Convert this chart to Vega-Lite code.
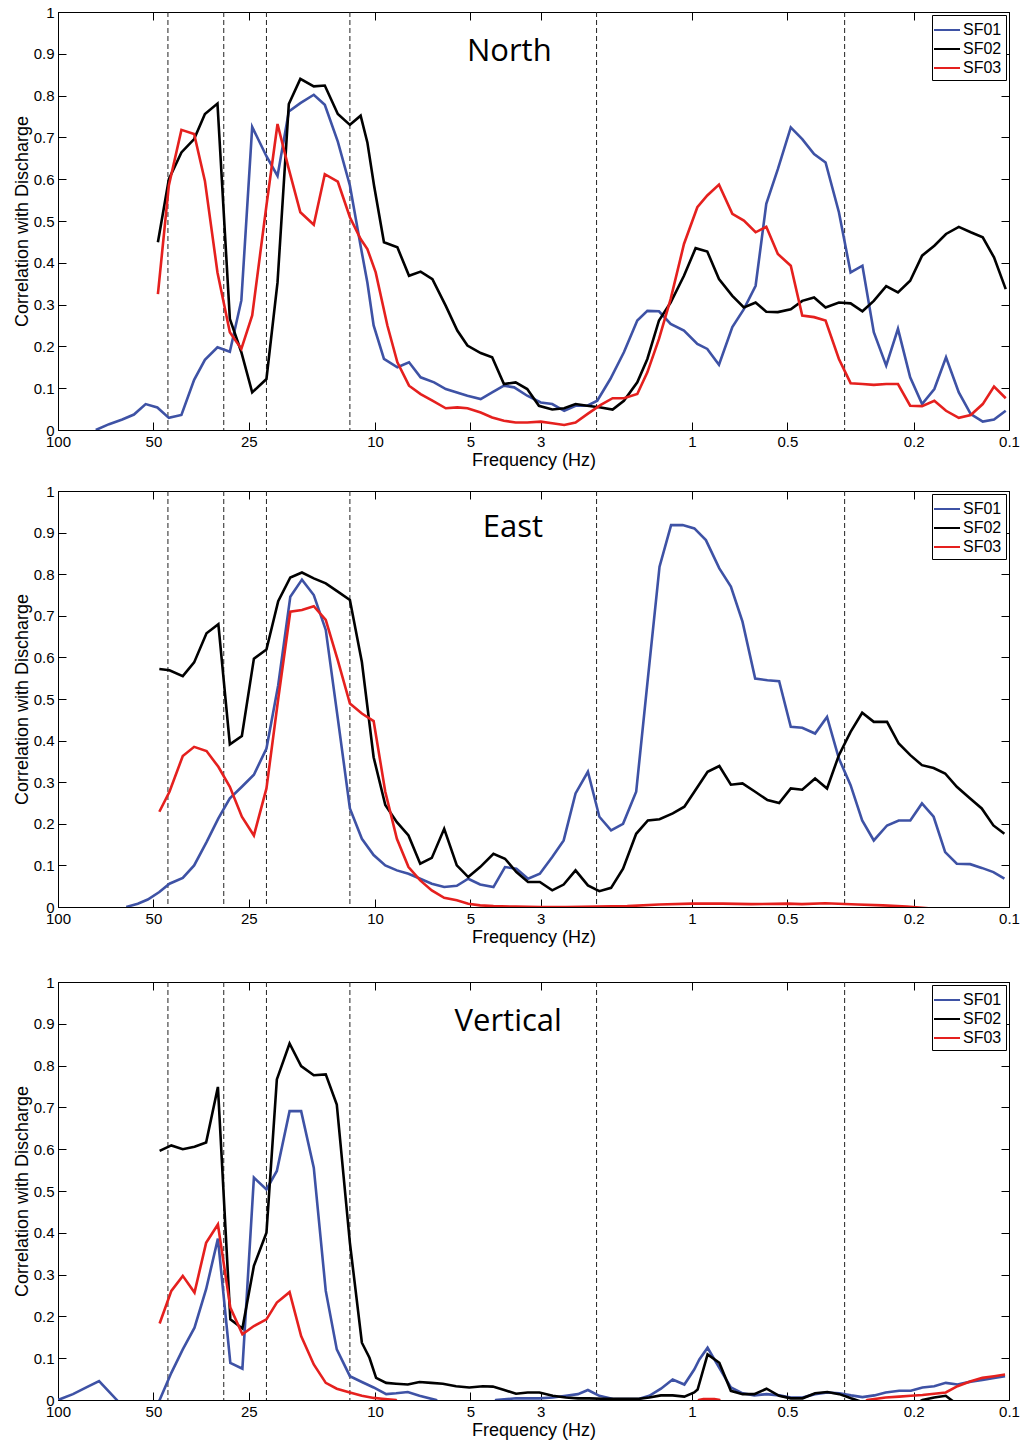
{
"$schema": "https://vega.github.io/schema/vega-lite/v6.json",
"background": "white",
"padding": {"left": 12, "top": 4, "right": 8, "bottom": 2},
"datasets": {
"bands": [{"f":45},{"f":30},{"f":22},{"f":12},{"f":2},{"f":0.33}],
"north": [
{"s":"SF01","f":76,"c":0},{"s":"SF01","f":69,"c":0.014},{"s":"SF01","f":62.7,"c":0.025},{"s":"SF01","f":57.6,"c":0.037},{"s":"SF01","f":52.9,"c":0.062},{"s":"SF01","f":48.6,"c":0.054},{"s":"SF01","f":44.7,"c":0.029},{"s":"SF01","f":40.8,"c":0.036},{"s":"SF01","f":37.2,"c":0.12},{"s":"SF01","f":34.4,"c":0.168},{"s":"SF01","f":31.4,"c":0.198},{"s":"SF01","f":28.7,"c":0.187},{"s":"SF01","f":26.4,"c":0.31},{"s":"SF01","f":24.4,"c":0.725},{"s":"SF01","f":22.0,"c":0.655},{"s":"SF01","f":20.3,"c":0.608},{"s":"SF01","f":18.7,"c":0.762},{"s":"SF01","f":17.2,"c":0.782},{"s":"SF01","f":15.6,"c":0.802},{"s":"SF01","f":14.4,"c":0.778},{"s":"SF01","f":13.1,"c":0.69},{"s":"SF01","f":12.0,"c":0.585},{"s":"SF01","f":11.1,"c":0.44},{"s":"SF01","f":10.57,"c":0.353},{"s":"SF01","f":10.1,"c":0.25},{"s":"SF01","f":9.37,"c":0.17},{"s":"SF01","f":8.5,"c":0.15},{"s":"SF01","f":7.81,"c":0.162},{"s":"SF01","f":7.18,"c":0.126},{"s":"SF01","f":6.51,"c":0.114},{"s":"SF01","f":5.98,"c":0.098},{"s":"SF01","f":5.11,"c":0.082},{"s":"SF01","f":4.64,"c":0.074},{"s":"SF01","f":4.27,"c":0.09},{"s":"SF01","f":3.92,"c":0.106},{"s":"SF01","f":3.64,"c":0.102},{"s":"SF01","f":3.31,"c":0.082},{"s":"SF01","f":3.0,"c":0.066},{"s":"SF01","f":2.76,"c":0.062},{"s":"SF01","f":2.53,"c":0.046},{"s":"SF01","f":2.33,"c":0.058},{"s":"SF01","f":2.14,"c":0.058},{"s":"SF01","f":1.99,"c":0.07},{"s":"SF01","f":1.81,"c":0.122},{"s":"SF01","f":1.64,"c":0.186},{"s":"SF01","f":1.488,"c":0.262},{"s":"SF01","f":1.383,"c":0.285},{"s":"SF01","f":1.271,"c":0.284},{"s":"SF01","f":1.168,"c":0.254},{"s":"SF01","f":1.06,"c":0.238},{"s":"SF01","f":0.962,"c":0.206},{"s":"SF01","f":0.895,"c":0.194},{"s":"SF01","f":0.822,"c":0.156},{"s":"SF01","f":0.746,"c":0.246},{"s":"SF01","f":0.686,"c":0.289},{"s":"SF01","f":0.63,"c":0.345},{"s":"SF01","f":0.583,"c":0.541},{"s":"SF01","f":0.536,"c":0.624},{"s":"SF01","f":0.488,"c":0.724},{"s":"SF01","f":0.449,"c":0.696},{"s":"SF01","f":0.412,"c":0.66},{"s":"SF01","f":0.379,"c":0.64},{"s":"SF01","f":0.344,"c":0.521},{"s":"SF01","f":0.316,"c":0.377},{"s":"SF01","f":0.29,"c":0.393},{"s":"SF01","f":0.267,"c":0.234},{"s":"SF01","f":0.244,"c":0.154},{"s":"SF01","f":0.224,"c":0.242},{"s":"SF01","f":0.205,"c":0.126},{"s":"SF01","f":0.188,"c":0.062},{"s":"SF01","f":0.172,"c":0.098},{"s":"SF01","f":0.158,"c":0.174},{"s":"SF01","f":0.144,"c":0.09},{"s":"SF01","f":0.132,"c":0.038},{"s":"SF01","f":0.121,"c":0.02},{"s":"SF01","f":0.1115,"c":0.025},{"s":"SF01","f":0.1024,"c":0.046},
{"s":"SF02","f":48.4,"c":0.449},{"s":"SF02","f":44.7,"c":0.6},{"s":"SF02","f":40.8,"c":0.664},{"s":"SF02","f":37.2,"c":0.696},{"s":"SF02","f":34.4,"c":0.756},{"s":"SF02","f":31.4,"c":0.781},{"s":"SF02","f":28.7,"c":0.266},{"s":"SF02","f":26.4,"c":0.186},{"s":"SF02","f":24.4,"c":0.09},{"s":"SF02","f":22.0,"c":0.122},{"s":"SF02","f":20.3,"c":0.353},{"s":"SF02","f":18.7,"c":0.78},{"s":"SF02","f":17.2,"c":0.84},{"s":"SF02","f":15.6,"c":0.822},{"s":"SF02","f":14.4,"c":0.824},{"s":"SF02","f":13.1,"c":0.756},{"s":"SF02","f":12.0,"c":0.73},{"s":"SF02","f":11.1,"c":0.752},{"s":"SF02","f":10.57,"c":0.688},{"s":"SF02","f":10.07,"c":0.585},{"s":"SF02","f":9.37,"c":0.449},{"s":"SF02","f":8.5,"c":0.437},{"s":"SF02","f":7.81,"c":0.369},{"s":"SF02","f":7.18,"c":0.379},{"s":"SF02","f":6.59,"c":0.361},{"s":"SF02","f":5.98,"c":0.297},{"s":"SF02","f":5.5,"c":0.238},{"s":"SF02","f":5.11,"c":0.202},{"s":"SF02","f":4.64,"c":0.184},{"s":"SF02","f":4.27,"c":0.174},{"s":"SF02","f":3.92,"c":0.11},{"s":"SF02","f":3.6,"c":0.114},{"s":"SF02","f":3.31,"c":0.098},{"s":"SF02","f":3.04,"c":0.058},{"s":"SF02","f":2.76,"c":0.049},{"s":"SF02","f":2.53,"c":0.052},{"s":"SF02","f":2.33,"c":0.062},{"s":"SF02","f":2.14,"c":0.058},{"s":"SF02","f":1.94,"c":0.054},{"s":"SF02","f":1.78,"c":0.049},{"s":"SF02","f":1.64,"c":0.07},{"s":"SF02","f":1.488,"c":0.114},{"s":"SF02","f":1.383,"c":0.17},{"s":"SF02","f":1.271,"c":0.262},{"s":"SF02","f":1.168,"c":0.305},{"s":"SF02","f":1.06,"c":0.369},{"s":"SF02","f":0.974,"c":0.435},{"s":"SF02","f":0.895,"c":0.427},{"s":"SF02","f":0.822,"c":0.361},{"s":"SF02","f":0.746,"c":0.321},{"s":"SF02","f":0.686,"c":0.293},{"s":"SF02","f":0.63,"c":0.305},{"s":"SF02","f":0.583,"c":0.283},{"s":"SF02","f":0.536,"c":0.282},{"s":"SF02","f":0.488,"c":0.289},{"s":"SF02","f":0.449,"c":0.309},{"s":"SF02","f":0.412,"c":0.317},{"s":"SF02","f":0.379,"c":0.293},{"s":"SF02","f":0.344,"c":0.305},{"s":"SF02","f":0.316,"c":0.303},{"s":"SF02","f":0.29,"c":0.284},{"s":"SF02","f":0.267,"c":0.309},{"s":"SF02","f":0.244,"c":0.344},{"s":"SF02","f":0.224,"c":0.329},{"s":"SF02","f":0.205,"c":0.357},{"s":"SF02","f":0.188,"c":0.417},{"s":"SF02","f":0.172,"c":0.441},{"s":"SF02","f":0.158,"c":0.469},{"s":"SF02","f":0.144,"c":0.486},{"s":"SF02","f":0.132,"c":0.473},{"s":"SF02","f":0.121,"c":0.461},{"s":"SF02","f":0.1115,"c":0.413},{"s":"SF02","f":0.1024,"c":0.337},
{"s":"SF03","f":48.4,"c":0.325},{"s":"SF03","f":44.7,"c":0.585},{"s":"SF03","f":40.8,"c":0.718},{"s":"SF03","f":37.2,"c":0.708},{"s":"SF03","f":34.4,"c":0.596},{"s":"SF03","f":31.4,"c":0.377},{"s":"SF03","f":28.7,"c":0.234},{"s":"SF03","f":26.4,"c":0.194},{"s":"SF03","f":24.4,"c":0.274},{"s":"SF03","f":22.0,"c":0.537},{"s":"SF03","f":20.3,"c":0.732},{"s":"SF03","f":18.7,"c":0.624},{"s":"SF03","f":17.2,"c":0.521},{"s":"SF03","f":15.6,"c":0.491},{"s":"SF03","f":14.4,"c":0.612},{"s":"SF03","f":13.1,"c":0.594},{"s":"SF03","f":12.0,"c":0.509},{"s":"SF03","f":11.1,"c":0.457},{"s":"SF03","f":10.57,"c":0.433},{"s":"SF03","f":9.95,"c":0.377},{"s":"SF03","f":9.14,"c":0.25},{"s":"SF03","f":8.5,"c":0.162},{"s":"SF03","f":7.81,"c":0.106},{"s":"SF03","f":7.18,"c":0.086},{"s":"SF03","f":6.59,"c":0.07},{"s":"SF03","f":5.98,"c":0.052},{"s":"SF03","f":5.5,"c":0.054},{"s":"SF03","f":5.11,"c":0.052},{"s":"SF03","f":4.64,"c":0.042},{"s":"SF03","f":4.27,"c":0.03},{"s":"SF03","f":3.92,"c":0.022},{"s":"SF03","f":3.6,"c":0.018},{"s":"SF03","f":3.31,"c":0.018},{"s":"SF03","f":3.0,"c":0.02},{"s":"SF03","f":2.76,"c":0.016},{"s":"SF03","f":2.53,"c":0.012},{"s":"SF03","f":2.33,"c":0.018},{"s":"SF03","f":2.14,"c":0.038},{"s":"SF03","f":1.94,"c":0.06},{"s":"SF03","f":1.78,"c":0.076},{"s":"SF03","f":1.64,"c":0.076},{"s":"SF03","f":1.488,"c":0.086},{"s":"SF03","f":1.383,"c":0.138},{"s":"SF03","f":1.271,"c":0.218},{"s":"SF03","f":1.168,"c":0.313},{"s":"SF03","f":1.06,"c":0.445},{"s":"SF03","f":0.962,"c":0.533},{"s":"SF03","f":0.895,"c":0.561},{"s":"SF03","f":0.822,"c":0.587},{"s":"SF03","f":0.746,"c":0.517},{"s":"SF03","f":0.686,"c":0.501},{"s":"SF03","f":0.63,"c":0.473},{"s":"SF03","f":0.583,"c":0.486},{"s":"SF03","f":0.536,"c":0.421},{"s":"SF03","f":0.488,"c":0.393},{"s":"SF03","f":0.449,"c":0.274},{"s":"SF03","f":0.412,"c":0.27},{"s":"SF03","f":0.379,"c":0.262},{"s":"SF03","f":0.344,"c":0.17},{"s":"SF03","f":0.316,"c":0.112},{"s":"SF03","f":0.29,"c":0.11},{"s":"SF03","f":0.267,"c":0.108},{"s":"SF03","f":0.244,"c":0.11},{"s":"SF03","f":0.224,"c":0.11},{"s":"SF03","f":0.205,"c":0.058},{"s":"SF03","f":0.188,"c":0.057},{"s":"SF03","f":0.172,"c":0.07},{"s":"SF03","f":0.158,"c":0.046},{"s":"SF03","f":0.144,"c":0.029},{"s":"SF03","f":0.132,"c":0.036},{"s":"SF03","f":0.121,"c":0.062},{"s":"SF03","f":0.1115,"c":0.104},{"s":"SF03","f":0.1024,"c":0.076}
],
"east": [
{"s":"SF01","f":60.9,"c":0},{"s":"SF01","f":56,"c":0.008},{"s":"SF01","f":52.1,"c":0.018},{"s":"SF01","f":47.9,"c":0.036},{"s":"SF01","f":44.5,"c":0.056},{"s":"SF01","f":40.4,"c":0.07},{"s":"SF01","f":37.2,"c":0.1},{"s":"SF01","f":34,"c":0.156},{"s":"SF01","f":31.2,"c":0.213},{"s":"SF01","f":28.7,"c":0.261},{"s":"SF01","f":26.3,"c":0.289},{"s":"SF01","f":24.1,"c":0.318},{"s":"SF01","f":22,"c":0.381},{"s":"SF01","f":20.2,"c":0.533},{"s":"SF01","f":18.5,"c":0.746},{"s":"SF01","f":17,"c":0.787},{"s":"SF01","f":15.6,"c":0.75},{"s":"SF01","f":14.3,"c":0.666},{"s":"SF01","f":13.1,"c":0.453},{"s":"SF01","f":12,"c":0.237},{"s":"SF01","f":11,"c":0.164},{"s":"SF01","f":10.1,"c":0.125},{"s":"SF01","f":9.28,"c":0.1},{"s":"SF01","f":8.53,"c":0.088},{"s":"SF01","f":7.84,"c":0.08},{"s":"SF01","f":7.2,"c":0.068},{"s":"SF01","f":6.62,"c":0.056},{"s":"SF01","f":6.05,"c":0.048},{"s":"SF01","f":5.52,"c":0.051},{"s":"SF01","f":5.08,"c":0.068},{"s":"SF01","f":4.66,"c":0.054},{"s":"SF01","f":4.23,"c":0.048},{"s":"SF01","f":3.89,"c":0.096},{"s":"SF01","f":3.58,"c":0.092},{"s":"SF01","f":3.29,"c":0.068},{"s":"SF01","f":3.02,"c":0.08},{"s":"SF01","f":2.76,"c":0.12},{"s":"SF01","f":2.54,"c":0.16},{"s":"SF01","f":2.33,"c":0.273},{"s":"SF01","f":2.13,"c":0.325},{"s":"SF01","f":1.96,"c":0.217},{"s":"SF01","f":1.8,"c":0.184},{"s":"SF01","f":1.65,"c":0.2},{"s":"SF01","f":1.5,"c":0.277},{"s":"SF01","f":1.378,"c":0.549},{"s":"SF01","f":1.266,"c":0.818},{"s":"SF01","f":1.164,"c":0.918},{"s":"SF01","f":1.07,"c":0.918},{"s":"SF01","f":0.983,"c":0.91},{"s":"SF01","f":0.904,"c":0.882},{"s":"SF01","f":0.82,"c":0.814},{"s":"SF01","f":0.754,"c":0.77},{"s":"SF01","f":0.693,"c":0.686},{"s":"SF01","f":0.632,"c":0.549},{"s":"SF01","f":0.578,"c":0.545},{"s":"SF01","f":0.531,"c":0.543},{"s":"SF01","f":0.488,"c":0.433},{"s":"SF01","f":0.449,"c":0.431},{"s":"SF01","f":0.409,"c":0.417},{"s":"SF01","f":0.375,"c":0.457},{"s":"SF01","f":0.344,"c":0.357},{"s":"SF01","f":0.316,"c":0.293},{"s":"SF01","f":0.2905,"c":0.208},{"s":"SF01","f":0.267,"c":0.16},{"s":"SF01","f":0.2425,"c":0.196},{"s":"SF01","f":0.2228,"c":0.208},{"s":"SF01","f":0.2048,"c":0.208},{"s":"SF01","f":0.1882,"c":0.249},{"s":"SF01","f":0.1729,"c":0.217},{"s":"SF01","f":0.159,"c":0.132},{"s":"SF01","f":0.1461,"c":0.104},{"s":"SF01","f":0.1326,"c":0.103},{"s":"SF01","f":0.1219,"c":0.094},{"s":"SF01","f":0.112,"c":0.084},{"s":"SF01","f":0.1034,"c":0.068},
{"s":"SF02","f":47.9,"c":0.572},{"s":"SF02","f":44.5,"c":0.569},{"s":"SF02","f":40.4,"c":0.555},{"s":"SF02","f":37.2,"c":0.588},{"s":"SF02","f":34,"c":0.658},{"s":"SF02","f":31.2,"c":0.68},{"s":"SF02","f":28.7,"c":0.391},{"s":"SF02","f":26.3,"c":0.411},{"s":"SF02","f":24.1,"c":0.597},{"s":"SF02","f":22,"c":0.619},{"s":"SF02","f":20.2,"c":0.735},{"s":"SF02","f":18.5,"c":0.792},{"s":"SF02","f":17,"c":0.804},{"s":"SF02","f":15.6,"c":0.79},{"s":"SF02","f":14.3,"c":0.778},{"s":"SF02","f":13.1,"c":0.758},{"s":"SF02","f":12,"c":0.738},{"s":"SF02","f":11,"c":0.589},{"s":"SF02","f":10.1,"c":0.36},{"s":"SF02","f":9.28,"c":0.245},{"s":"SF02","f":8.53,"c":0.204},{"s":"SF02","f":7.84,"c":0.172},{"s":"SF02","f":7.2,"c":0.104},{"s":"SF02","f":6.62,"c":0.118},{"s":"SF02","f":6.05,"c":0.188},{"s":"SF02","f":5.52,"c":0.1},{"s":"SF02","f":5.08,"c":0.072},{"s":"SF02","f":4.66,"c":0.096},{"s":"SF02","f":4.23,"c":0.128},{"s":"SF02","f":3.89,"c":0.116},{"s":"SF02","f":3.58,"c":0.084},{"s":"SF02","f":3.29,"c":0.06},{"s":"SF02","f":3.02,"c":0.06},{"s":"SF02","f":2.76,"c":0.04},{"s":"SF02","f":2.54,"c":0.054},{"s":"SF02","f":2.33,"c":0.088},{"s":"SF02","f":2.13,"c":0.052},{"s":"SF02","f":1.96,"c":0.038},{"s":"SF02","f":1.8,"c":0.046},{"s":"SF02","f":1.65,"c":0.092},{"s":"SF02","f":1.5,"c":0.176},{"s":"SF02","f":1.378,"c":0.208},{"s":"SF02","f":1.266,"c":0.211},{"s":"SF02","f":1.15,"c":0.225},{"s":"SF02","f":1.057,"c":0.241},{"s":"SF02","f":0.983,"c":0.277},{"s":"SF02","f":0.893,"c":0.325},{"s":"SF02","f":0.82,"c":0.339},{"s":"SF02","f":0.754,"c":0.294},{"s":"SF02","f":0.693,"c":0.297},{"s":"SF02","f":0.632,"c":0.277},{"s":"SF02","f":0.578,"c":0.257},{"s":"SF02","f":0.531,"c":0.25},{"s":"SF02","f":0.488,"c":0.285},{"s":"SF02","f":0.449,"c":0.282},{"s":"SF02","f":0.409,"c":0.309},{"s":"SF02","f":0.375,"c":0.285},{"s":"SF02","f":0.344,"c":0.365},{"s":"SF02","f":0.316,"c":0.421},{"s":"SF02","f":0.2905,"c":0.467},{"s":"SF02","f":0.267,"c":0.445},{"s":"SF02","f":0.2425,"c":0.445},{"s":"SF02","f":0.2228,"c":0.393},{"s":"SF02","f":0.2048,"c":0.365},{"s":"SF02","f":0.1882,"c":0.341},{"s":"SF02","f":0.1729,"c":0.334},{"s":"SF02","f":0.159,"c":0.321},{"s":"SF02","f":0.1461,"c":0.289},{"s":"SF02","f":0.1326,"c":0.261},{"s":"SF02","f":0.1219,"c":0.237},{"s":"SF02","f":0.112,"c":0.196},{"s":"SF02","f":0.1034,"c":0.176},
{"s":"SF03","f":47.9,"c":0.229},{"s":"SF03","f":44.5,"c":0.277},{"s":"SF03","f":40.4,"c":0.363},{"s":"SF03","f":37.2,"c":0.385},{"s":"SF03","f":34,"c":0.375},{"s":"SF03","f":31.2,"c":0.337},{"s":"SF03","f":28.7,"c":0.289},{"s":"SF03","f":26.3,"c":0.217},{"s":"SF03","f":24.1,"c":0.172},{"s":"SF03","f":22,"c":0.285},{"s":"SF03","f":20.2,"c":0.5},{"s":"SF03","f":18.5,"c":0.71},{"s":"SF03","f":17,"c":0.714},{"s":"SF03","f":15.6,"c":0.723},{"s":"SF03","f":14.3,"c":0.69},{"s":"SF03","f":13.1,"c":0.593},{"s":"SF03","f":12,"c":0.489},{"s":"SF03","f":11,"c":0.465},{"s":"SF03","f":10.1,"c":0.447},{"s":"SF03","f":9.28,"c":0.277},{"s":"SF03","f":8.53,"c":0.164},{"s":"SF03","f":7.84,"c":0.096},{"s":"SF03","f":7.2,"c":0.064},{"s":"SF03","f":6.62,"c":0.04},{"s":"SF03","f":6.05,"c":0.022},{"s":"SF03","f":5.52,"c":0.016},{"s":"SF03","f":5.08,"c":0.008},{"s":"SF03","f":4.66,"c":0.004},{"s":"SF03","f":4.23,"c":0.002},{"s":"SF03","f":3.6,"c":0.001},{"s":"SF03","f":3,"c":0.0},{"s":"SF03","f":2.5,"c":0.0},{"s":"SF03","f":2,"c":0.001},{"s":"SF03","f":1.6,"c":0.002},{"s":"SF03","f":1.27,"c":0.006},{"s":"SF03","f":1,"c":0.008},{"s":"SF03","f":0.8,"c":0.008},{"s":"SF03","f":0.65,"c":0.007},{"s":"SF03","f":0.5,"c":0.008},{"s":"SF03","f":0.45,"c":0.007},{"s":"SF03","f":0.38,"c":0.009},{"s":"SF03","f":0.3,"c":0.006},{"s":"SF03","f":0.25,"c":0.004},{"s":"SF03","f":0.21,"c":0.001},{"s":"SF03","f":0.18,"c":-0.003},{"s":"SF03","f":0.17,"c":-0.02}
],
"vert": [
{"s":"SF01","f":100,"c":0},{"s":"SF01","f":89.7,"c":0.014},{"s":"SF01","f":81.4,"c":0.03},{"s":"SF01","f":74.2,"c":0.045},{"s":"SF01","f":65.2,"c":0},{"s":"SF01","f":62,"c":-0.02},{"s":"SF01","f":50,"c":-0.02},{"s":"SF01","f":47.8,"c":0},{"s":"SF01","f":43.9,"c":0.065},{"s":"SF01","f":40.4,"c":0.121},{"s":"SF01","f":37.1,"c":0.173},{"s":"SF01","f":34.1,"c":0.265},{"s":"SF01","f":31.3,"c":0.386},{"s":"SF01","f":28.6,"c":0.089},{"s":"SF01","f":26.2,"c":0.075},{"s":"SF01","f":24.1,"c":0.532},{"s":"SF01","f":22,"c":0.504},{"s":"SF01","f":20.4,"c":0.548},{"s":"SF01","f":18.6,"c":0.691},{"s":"SF01","f":17.1,"c":0.691},{"s":"SF01","f":15.6,"c":0.556},{"s":"SF01","f":14.3,"c":0.261},{"s":"SF01","f":13.2,"c":0.121},{"s":"SF01","f":12,"c":0.057},{"s":"SF01","f":11,"c":0.043},{"s":"SF01","f":10.1,"c":0.03},{"s":"SF01","f":9.22,"c":0.014},{"s":"SF01","f":8.58,"c":0.016},{"s":"SF01","f":7.88,"c":0.019},{"s":"SF01","f":7.24,"c":0.01},{"s":"SF01","f":6.42,"c":0},{"s":"SF01","f":6,"c":-0.02},{"s":"SF01","f":4.3,"c":-0.02},{"s":"SF01","f":4.15,"c":0},{"s":"SF01","f":3.59,"c":0.004},{"s":"SF01","f":3.03,"c":0.004},{"s":"SF01","f":2.75,"c":0.006},{"s":"SF01","f":2.5,"c":0.01},{"s":"SF01","f":2.29,"c":0.014},{"s":"SF01","f":2.13,"c":0.024},{"s":"SF01","f":1.96,"c":0.01},{"s":"SF01","f":1.76,"c":0.002},{"s":"SF01","f":1.615,"c":0.002},{"s":"SF01","f":1.466,"c":0.003},{"s":"SF01","f":1.364,"c":0.01},{"s":"SF01","f":1.253,"c":0.027},{"s":"SF01","f":1.151,"c":0.049},{"s":"SF01","f":1.057,"c":0.037},{"s":"SF01","f":0.984,"c":0.073},{"s":"SF01","f":0.948,"c":0.097},{"s":"SF01","f":0.893,"c":0.125},{"s":"SF01","f":0.82,"c":0.077},{"s":"SF01","f":0.754,"c":0.03},{"s":"SF01","f":0.692,"c":0.016},{"s":"SF01","f":0.636,"c":0.011},{"s":"SF01","f":0.582,"c":0.014},{"s":"SF01","f":0.531,"c":0.011},{"s":"SF01","f":0.488,"c":0.006},{"s":"SF01","f":0.448,"c":0.006},{"s":"SF01","f":0.409,"c":0.014},{"s":"SF01","f":0.374,"c":0.018},{"s":"SF01","f":0.343,"c":0.016},{"s":"SF01","f":0.315,"c":0.011},{"s":"SF01","f":0.29,"c":0.007},{"s":"SF01","f":0.266,"c":0.011},{"s":"SF01","f":0.245,"c":0.018},{"s":"SF01","f":0.222,"c":0.022},{"s":"SF01","f":0.204,"c":0.022},{"s":"SF01","f":0.1875,"c":0.03},{"s":"SF01","f":0.1722,"c":0.033},{"s":"SF01","f":0.1583,"c":0.041},{"s":"SF01","f":0.1454,"c":0.037},{"s":"SF01","f":0.132,"c":0.044},{"s":"SF01","f":0.1213,"c":0.048},{"s":"SF01","f":0.1114,"c":0.053},{"s":"SF01","f":0.1029,"c":0.057},
{"s":"SF02","f":47.8,"c":0.596},{"s":"SF02","f":43.9,"c":0.609},{"s":"SF02","f":40.4,"c":0.6},{"s":"SF02","f":37.1,"c":0.606},{"s":"SF02","f":34.1,"c":0.616},{"s":"SF02","f":31.3,"c":0.749},{"s":"SF02","f":28.6,"c":0.193},{"s":"SF02","f":26.2,"c":0.171},{"s":"SF02","f":24.1,"c":0.321},{"s":"SF02","f":22,"c":0.4},{"s":"SF02","f":20.4,"c":0.767},{"s":"SF02","f":18.6,"c":0.853},{"s":"SF02","f":17.1,"c":0.799},{"s":"SF02","f":15.6,"c":0.777},{"s":"SF02","f":14.3,"c":0.779},{"s":"SF02","f":13.2,"c":0.707},{"s":"SF02","f":12,"c":0.376},{"s":"SF02","f":11,"c":0.137},{"s":"SF02","f":10.41,"c":0.101},{"s":"SF02","f":9.92,"c":0.053},{"s":"SF02","f":9.22,"c":0.041},{"s":"SF02","f":8.58,"c":0.039},{"s":"SF02","f":7.88,"c":0.037},{"s":"SF02","f":7.24,"c":0.043},{"s":"SF02","f":6.65,"c":0.041},{"s":"SF02","f":6.11,"c":0.039},{"s":"SF02","f":5.55,"c":0.033},{"s":"SF02","f":5.04,"c":0.03},{"s":"SF02","f":4.57,"c":0.033},{"s":"SF02","f":4.25,"c":0.032},{"s":"SF02","f":3.91,"c":0.024},{"s":"SF02","f":3.59,"c":0.015},{"s":"SF02","f":3.3,"c":0.018},{"s":"SF02","f":3.03,"c":0.018},{"s":"SF02","f":2.75,"c":0.01},{"s":"SF02","f":2.5,"c":0.006},{"s":"SF02","f":2.29,"c":0.004},{"s":"SF02","f":2.11,"c":0.004},{"s":"SF02","f":1.91,"c":0.003},{"s":"SF02","f":1.76,"c":0.003},{"s":"SF02","f":1.615,"c":0.003},{"s":"SF02","f":1.466,"c":0.003},{"s":"SF02","f":1.364,"c":0.006},{"s":"SF02","f":1.253,"c":0.011},{"s":"SF02","f":1.151,"c":0.011},{"s":"SF02","f":1.057,"c":0.008},{"s":"SF02","f":0.984,"c":0.018},{"s":"SF02","f":0.96,"c":0.025},{"s":"SF02","f":0.893,"c":0.109},{"s":"SF02","f":0.82,"c":0.089},{"s":"SF02","f":0.754,"c":0.022},{"s":"SF02","f":0.692,"c":0.014},{"s":"SF02","f":0.636,"c":0.014},{"s":"SF02","f":0.582,"c":0.027},{"s":"SF02","f":0.531,"c":0.01},{"s":"SF02","f":0.488,"c":0.004},{"s":"SF02","f":0.448,"c":0.004},{"s":"SF02","f":0.409,"c":0.016},{"s":"SF02","f":0.374,"c":0.019},{"s":"SF02","f":0.343,"c":0.014},{"s":"SF02","f":0.315,"c":0.004},{"s":"SF02","f":0.29,"c":-0.005},{"s":"SF02","f":0.26,"c":-0.02},{"s":"SF02","f":0.21,"c":-0.02},{"s":"SF02","f":0.1875,"c":0},{"s":"SF02","f":0.1722,"c":0.006},{"s":"SF02","f":0.1583,"c":0.01},{"s":"SF02","f":0.152,"c":0},{"s":"SF02","f":0.14,"c":-0.02},
{"s":"SF03","f":47.8,"c":0.183},{"s":"SF03","f":43.9,"c":0.261},{"s":"SF03","f":40.4,"c":0.297},{"s":"SF03","f":37.1,"c":0.257},{"s":"SF03","f":34.1,"c":0.376},{"s":"SF03","f":31.3,"c":0.42},{"s":"SF03","f":28.6,"c":0.221},{"s":"SF03","f":26.2,"c":0.157},{"s":"SF03","f":24.1,"c":0.177},{"s":"SF03","f":22,"c":0.193},{"s":"SF03","f":20.4,"c":0.233},{"s":"SF03","f":18.6,"c":0.258},{"s":"SF03","f":17.1,"c":0.153},{"s":"SF03","f":15.6,"c":0.085},{"s":"SF03","f":14.3,"c":0.041},{"s":"SF03","f":13.2,"c":0.027},{"s":"SF03","f":12,"c":0.018},{"s":"SF03","f":11,"c":0.01},{"s":"SF03","f":10.1,"c":0.005},{"s":"SF03","f":9.5,"c":0.003},{"s":"SF03","f":8.6,"c":0},{"s":"SF03","f":8.2,"c":-0.02},{"s":"SF03","f":1.0,"c":-0.02},{"s":"SF03","f":0.95,"c":0},{"s":"SF03","f":0.92,"c":0.002},{"s":"SF03","f":0.85,"c":0.002},{"s":"SF03","f":0.82,"c":0},{"s":"SF03","f":0.8,"c":-0.02},{"s":"SF03","f":0.3,"c":-0.02},{"s":"SF03","f":0.28,"c":0},{"s":"SF03","f":0.245,"c":0.006},{"s":"SF03","f":0.222,"c":0.008},{"s":"SF03","f":0.204,"c":0.01},{"s":"SF03","f":0.1875,"c":0.012},{"s":"SF03","f":0.1722,"c":0.015},{"s":"SF03","f":0.1583,"c":0.018},{"s":"SF03","f":0.1454,"c":0.033},{"s":"SF03","f":0.132,"c":0.045},{"s":"SF03","f":0.1213,"c":0.053},{"s":"SF03","f":0.1114,"c":0.057},{"s":"SF03","f":0.1029,"c":0.061}
]
},
"vconcat": [
{
"vconcat": [
{
"width": 951, "height": 418,
"layer": [
{"data": {"name": "bands"}, "mark": {"type": "rule", "color": "#222", "strokeWidth": 1, "strokeDash": [5, 3]},
 "encoding": {"x": {"field": "f", "type": "quantitative", "scale": {"type": "log", "domain": [0.1, 100], "reverse": true, "nice": false},
  "axis": {"orient": "bottom", "values": [100, 50, 25, 10, 5, 3, 1, 0.5, 0.2, 0.1], "format": "~g", "title": "Frequency (Hz)", "labelFlush": false, "labelOverlap": false}}}},
{"data": {"name": "north"}, "mark": {"type": "line", "strokeWidth": 2.6, "clip": true},
 "encoding": {"x": {"field": "f", "type": "quantitative", "scale": {"type": "log", "domain": [0.1, 100], "reverse": true, "nice": false},
   "axis": {"orient": "top", "values": [100, 50, 25, 10, 5, 3, 1, 0.5, 0.2, 0.1], "labels": false, "title": null}},
  "y": {"field": "c", "type": "quantitative", "scale": {"domain": [0, 1], "nice": false},
   "axis": {"orient": "left", "values": [0, 0.1, 0.2, 0.3, 0.4, 0.5, 0.6, 0.7, 0.8, 0.9, 1], "format": "~g", "title": "Correlation with Discharge", "labelOverlap": false}},
  "color": {"field": "s", "type": "nominal", "scale": {"domain": ["SF01", "SF02", "SF03"], "range": ["#3e52a5", "#000000", "#e5201e"]}, "legend": {"title": null}}}},
{"data": {"values": [{"t": "North", "f": 3.77, "c": 0.883}]}, "mark": {"type": "text", "font": "Open Sans", "fontSize": 31, "align": "center", "baseline": "alphabetic", "color": "black"},
 "encoding": {"x": {"field": "f", "type": "quantitative", "scale": {"type": "log", "domain": [0.1, 100], "reverse": true, "nice": false}, "axis": null},
  "y": {"field": "c", "type": "quantitative", "scale": {"domain": [0, 1], "nice": false},
   "axis": {"orient": "right", "values": [0, 0.1, 0.2, 0.3, 0.4, 0.5, 0.6, 0.7, 0.8, 0.9, 1], "labels": false, "title": null}},
  "text": {"field": "t"}}}
],
"resolve": {"axis": {"x": "independent", "y": "independent"}}
},
{
"width": 951, "height": 416,
"layer": [
{"data": {"name": "bands"}, "mark": {"type": "rule", "color": "#222", "strokeWidth": 1, "strokeDash": [5, 3]},
 "encoding": {"x": {"field": "f", "type": "quantitative", "scale": {"type": "log", "domain": [0.1, 100], "reverse": true, "nice": false},
  "axis": {"orient": "bottom", "values": [100, 50, 25, 10, 5, 3, 1, 0.5, 0.2, 0.1], "format": "~g", "title": "Frequency (Hz)", "labelFlush": false, "labelOverlap": false}}}},
{"data": {"name": "east"}, "mark": {"type": "line", "strokeWidth": 2.6, "clip": true},
 "encoding": {"x": {"field": "f", "type": "quantitative", "scale": {"type": "log", "domain": [0.1, 100], "reverse": true, "nice": false},
   "axis": {"orient": "top", "values": [100, 50, 25, 10, 5, 3, 1, 0.5, 0.2, 0.1], "labels": false, "title": null}},
  "y": {"field": "c", "type": "quantitative", "scale": {"domain": [0, 1], "nice": false},
   "axis": {"orient": "left", "values": [0, 0.1, 0.2, 0.3, 0.4, 0.5, 0.6, 0.7, 0.8, 0.9, 1], "format": "~g", "title": "Correlation with Discharge", "labelOverlap": false}},
  "color": {"field": "s", "type": "nominal", "scale": {"domain": ["SF01", "SF02", "SF03"], "range": ["#3e52a5", "#000000", "#e5201e"]}, "legend": {"title": null}}}},
{"data": {"values": [{"t": "East", "f": 3.67, "c": 0.889}]}, "mark": {"type": "text", "font": "Open Sans", "fontSize": 31, "align": "center", "baseline": "alphabetic", "color": "black"},
 "encoding": {"x": {"field": "f", "type": "quantitative", "scale": {"type": "log", "domain": [0.1, 100], "reverse": true, "nice": false}, "axis": null},
  "y": {"field": "c", "type": "quantitative", "scale": {"domain": [0, 1], "nice": false},
   "axis": {"orient": "right", "values": [0, 0.1, 0.2, 0.3, 0.4, 0.5, 0.6, 0.7, 0.8, 0.9, 1], "labels": false, "title": null}},
  "text": {"field": "t"}}}
],
"resolve": {"axis": {"x": "independent", "y": "independent"}}
}
],
"spacing": 13,
"resolve": {"legend": {"color": "independent"}}
},
{
"width": 951, "height": 418,
"layer": [
{"data": {"name": "bands"}, "mark": {"type": "rule", "color": "#222", "strokeWidth": 1, "strokeDash": [5, 3]},
 "encoding": {"x": {"field": "f", "type": "quantitative", "scale": {"type": "log", "domain": [0.1, 100], "reverse": true, "nice": false},
  "axis": {"orient": "bottom", "values": [100, 50, 25, 10, 5, 3, 1, 0.5, 0.2, 0.1], "format": "~g", "title": "Frequency (Hz)", "labelFlush": false, "labelOverlap": false}}}},
{"data": {"name": "vert"}, "mark": {"type": "line", "strokeWidth": 2.6, "clip": true},
 "encoding": {"x": {"field": "f", "type": "quantitative", "scale": {"type": "log", "domain": [0.1, 100], "reverse": true, "nice": false},
   "axis": {"orient": "top", "values": [100, 50, 25, 10, 5, 3, 1, 0.5, 0.2, 0.1], "labels": false, "title": null}},
  "y": {"field": "c", "type": "quantitative", "scale": {"domain": [0, 1], "nice": false},
   "axis": {"orient": "left", "values": [0, 0.1, 0.2, 0.3, 0.4, 0.5, 0.6, 0.7, 0.8, 0.9, 1], "format": "~g", "title": "Correlation with Discharge", "labelOverlap": false}},
  "color": {"field": "s", "type": "nominal", "scale": {"domain": ["SF01", "SF02", "SF03"], "range": ["#3e52a5", "#000000", "#e5201e"]}, "legend": {"title": null}}}},
{"data": {"values": [{"t": "Vertical", "f": 3.8, "c": 0.883}]}, "mark": {"type": "text", "font": "Open Sans", "fontSize": 31, "align": "center", "baseline": "alphabetic", "color": "black"},
 "encoding": {"x": {"field": "f", "type": "quantitative", "scale": {"type": "log", "domain": [0.1, 100], "reverse": true, "nice": false}, "axis": null},
  "y": {"field": "c", "type": "quantitative", "scale": {"domain": [0, 1], "nice": false},
   "axis": {"orient": "right", "values": [0, 0.1, 0.2, 0.3, 0.4, 0.5, 0.6, 0.7, 0.8, 0.9, 1], "labels": false, "title": null}},
  "text": {"field": "t"}}}
],
"resolve": {"axis": {"x": "independent", "y": "independent"}}
}
],
"spacing": 27,
"resolve": {"legend": {"color": "independent"}},
"config": {
"view": {"stroke": "black", "strokeWidth": 1},
"axis": {"labelFont": "Liberation Sans", "labelFontSize": 15, "labelColor": "black", "titleFont": "Liberation Sans", "titleFontSize": 18, "titleFontWeight": "normal", "titleColor": "black", "domainColor": "black", "tickColor": "black", "grid": false, "tickSize": -8, "labelPadding": 12, "titlePadding": 2},
"legend": {"orient": "top-right", "offset": 3, "padding": 4, "strokeColor": "black", "fillColor": "white", "labelFont": "Liberation Sans", "labelFontSize": 16, "labelColor": "black", "symbolType": "M-1.3,0H1.3", "symbolStrokeWidth": 2, "symbolSize": 400, "rowPadding": 0, "labelOffset": 5, "cornerRadius": 0}
}
}
